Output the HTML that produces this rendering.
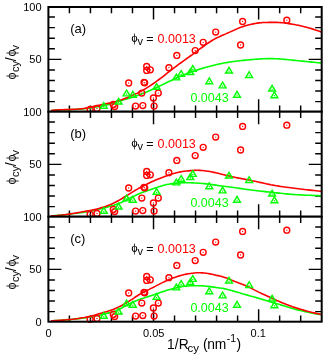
<!DOCTYPE html>
<html><head><meta charset="utf-8"><title>plot</title>
<style>
html,body{margin:0;padding:0;background:#fff;}
svg{display:block;will-change:transform;}
text{font-family:"Liberation Sans",sans-serif;}
</style></head><body>
<svg width="325" height="357" viewBox="0 0 325 357">
<rect width="325" height="357" fill="#fff"/>
<defs>
<g id="c"><circle r="2.95" fill="none" stroke="#ff0000" stroke-width="1.4"/><circle r="0.65" fill="#ff0000"/></g>
<g id="t"><path d="M0,-2.85 L3.4,2.85 L-3.4,2.85 Z" fill="none" stroke="#00ff00" stroke-width="1.45" stroke-linejoin="miter"/><circle cy="1.0" r="0.7" fill="#00ff00"/></g>
<g id="phi"><path fill-rule="evenodd" fill="#000" d="M-3.05,-3.3 a3.05,3.5 0 1,0 6.1,0 a3.05,3.5 0 1,0 -6.1,0 Z M-1.9,-3.3 a1.9,2.8 0 1,0 3.8,0 a1.9,2.8 0 1,0 -3.8,0 Z"/><path d="M0,-9.2 V3.1" stroke="#000" stroke-width="0.8" fill="none"/></g>
</defs>

<g>
<rect x="48.4" y="7.0" width="273.3" height="105.7" fill="#fff"/>
<path d="M69.42,7.0 V13.2 M69.42,111.7 V105.5 M90.45,7.0 V13.2 M90.45,111.7 V105.5 M111.47,7.0 V13.2 M111.47,111.7 V105.5 M132.49,7.0 V13.2 M132.49,111.7 V105.5 M153.52,7.0 V19.5 M153.52,111.7 V99.2 M174.54,7.0 V13.2 M174.54,111.7 V105.5 M195.56,7.0 V13.2 M195.56,111.7 V105.5 M216.58,7.0 V13.2 M216.58,111.7 V105.5 M237.61,7.0 V13.2 M237.61,111.7 V105.5 M258.63,7.0 V19.5 M258.63,111.7 V99.2 M279.65,7.0 V13.2 M279.65,111.7 V105.5 M300.68,7.0 V13.2 M300.68,111.7 V105.5 M48.4,101.63 H54.9 M321.7,101.63 H315.2 M48.4,91.06 H54.9 M321.7,91.06 H315.2 M48.4,80.49 H54.9 M321.7,80.49 H315.2 M48.4,69.92 H54.9 M321.7,69.92 H315.2 M48.4,59.35 H61.4 M321.7,59.35 H308.7 M48.4,48.78 H54.9 M321.7,48.78 H315.2 M48.4,38.21 H54.9 M321.7,38.21 H315.2 M48.4,27.64 H54.9 M321.7,27.64 H315.2 M48.4,17.07 H54.9 M321.7,17.07 H315.2" stroke="#000" stroke-width="1.45" fill="none"/>
<path d="M51.0,110.65 L52.9,110.44 L54.9,110.26 L56.9,110.12 L58.8,110.00 L60.8,109.90 L62.7,109.82 L64.7,109.75 L66.7,109.69 L68.6,109.63 L70.6,109.57 L72.6,109.50 L74.5,109.43 L76.5,109.33 L78.5,109.22 L80.4,109.09 L82.4,108.92 L84.4,108.73 L86.3,108.49 L88.3,108.23 L90.2,107.93 L92.2,107.62 L94.2,107.29 L96.1,106.95 L98.1,106.61 L100.1,106.26 L102.0,105.89 L104.0,105.51 L106.0,105.09 L107.9,104.63 L109.9,104.12 L111.8,103.56 L113.8,102.96 L115.8,102.33 L117.7,101.70 L119.7,101.07 L121.7,100.45 L123.6,99.85 L125.6,99.27 L127.6,98.70 L129.5,98.12 L131.5,97.53 L133.5,96.91 L135.4,96.26 L137.4,95.58 L139.3,94.86 L141.3,94.11 L143.3,93.34 L145.2,92.54 L147.2,91.71 L149.2,90.86 L151.1,89.99 L153.1,89.10 L155.1,88.19 L157.0,87.26 L159.0,86.33 L160.9,85.39 L162.9,84.44 L164.9,83.49 L166.8,82.54 L168.8,81.59 L170.8,80.66 L172.7,79.73 L174.7,78.82 L176.7,77.92 L178.6,77.05 L180.6,76.20 L182.6,75.38 L184.5,74.58 L186.5,73.80 L188.4,73.05 L190.4,72.32 L192.4,71.61 L194.3,70.92 L196.3,70.26 L198.3,69.62 L200.2,68.99 L202.2,68.39 L204.2,67.81 L206.1,67.25 L208.1,66.71 L210.1,66.19 L212.0,65.68 L214.0,65.20 L215.9,64.73 L217.9,64.29 L219.9,63.86 L221.8,63.45 L223.8,63.07 L225.8,62.71 L227.7,62.37 L229.7,62.05 L231.7,61.75 L233.6,61.48 L235.6,61.22 L237.5,60.98 L239.5,60.76 L241.5,60.55 L243.4,60.35 L245.4,60.16 L247.4,59.97 L249.3,59.79 L251.3,59.61 L253.3,59.44 L255.2,59.27 L257.2,59.12 L259.2,58.98 L261.1,58.86 L263.1,58.76 L265.0,58.68 L267.0,58.63 L269.0,58.60 L270.9,58.61 L272.9,58.65 L274.9,58.71 L276.8,58.80 L278.8,58.92 L280.8,59.05 L282.7,59.20 L284.7,59.37 L286.6,59.55 L288.6,59.74 L290.6,59.93 L292.5,60.13 L294.5,60.33 L296.5,60.53 L298.4,60.73 L300.4,60.93 L302.4,61.13 L304.3,61.33 L306.3,61.53 L308.3,61.72 L310.2,61.92 L312.2,62.12 L314.1,62.31 L316.1,62.51 L318.1,62.71 L320.0,62.90 L322.0,63.10" fill="none" stroke="#00ff00" stroke-width="1.6"/>
<path d="M51.0,110.61 L52.9,110.37 L54.9,110.17 L56.9,110.02 L58.8,109.89 L60.8,109.79 L62.7,109.71 L64.7,109.65 L66.7,109.59 L68.6,109.53 L70.6,109.47 L72.6,109.39 L74.5,109.30 L76.5,109.18 L78.5,109.03 L80.4,108.85 L82.4,108.62 L84.4,108.34 L86.3,108.01 L88.3,107.63 L90.2,107.22 L92.2,106.78 L94.2,106.34 L96.1,105.89 L98.1,105.46 L100.1,105.04 L102.0,104.63 L104.0,104.23 L106.0,103.81 L107.9,103.39 L109.9,102.94 L111.8,102.47 L113.8,101.98 L115.8,101.45 L117.7,100.89 L119.7,100.28 L121.7,99.64 L123.6,98.96 L125.6,98.23 L127.6,97.46 L129.5,96.66 L131.5,95.82 L133.5,94.96 L135.4,94.06 L137.4,93.12 L139.3,92.14 L141.3,91.10 L143.3,90.01 L145.2,88.85 L147.2,87.65 L149.2,86.40 L151.1,85.10 L153.1,83.76 L155.1,82.37 L157.0,80.95 L159.0,79.50 L160.9,78.02 L162.9,76.53 L164.9,75.01 L166.8,73.49 L168.8,71.96 L170.8,70.43 L172.7,68.90 L174.7,67.39 L176.7,65.90 L178.6,64.43 L180.6,62.98 L182.6,61.56 L184.5,60.15 L186.5,58.76 L188.4,57.37 L190.4,55.97 L192.4,54.56 L194.3,53.13 L196.3,51.68 L198.3,50.21 L200.2,48.73 L202.2,47.26 L204.2,45.80 L206.1,44.39 L208.1,43.02 L210.1,41.72 L212.0,40.50 L214.0,39.36 L215.9,38.32 L217.9,37.36 L219.9,36.45 L221.8,35.57 L223.8,34.72 L225.8,33.87 L227.7,33.00 L229.7,32.13 L231.7,31.26 L233.6,30.37 L235.6,29.49 L237.5,28.62 L239.5,27.80 L241.5,27.05 L243.4,26.38 L245.4,25.79 L247.4,25.26 L249.3,24.77 L251.3,24.30 L253.3,23.86 L255.2,23.47 L257.2,23.14 L259.2,22.88 L261.1,22.70 L263.1,22.57 L265.0,22.49 L267.0,22.44 L269.0,22.41 L270.9,22.39 L272.9,22.37 L274.9,22.37 L276.8,22.41 L278.8,22.49 L280.8,22.63 L282.7,22.82 L284.7,23.05 L286.6,23.31 L288.6,23.59 L290.6,23.89 L292.5,24.22 L294.5,24.56 L296.5,24.93 L298.4,25.33 L300.4,25.75 L302.4,26.20 L304.3,26.68 L306.3,27.18 L308.3,27.71 L310.2,28.28 L312.2,28.87 L314.1,29.49 L316.1,30.15 L318.1,30.83 L320.0,31.55 L322.0,32.30" fill="none" stroke="#ff0000" stroke-width="1.6"/>
<use href="#c" x="90.1" y="109.3"/>
<use href="#c" x="97.0" y="108.4"/>
<use href="#c" x="113.3" y="104.5"/>
<use href="#c" x="114.7" y="106.6"/>
<use href="#c" x="128.7" y="83"/>
<use href="#c" x="135.6" y="106.1"/>
<use href="#c" x="141.8" y="93.1"/>
<use href="#c" x="142.8" y="105.6"/>
<use href="#c" x="144.0" y="82.3"/>
<use href="#c" x="144.7" y="82.8"/>
<use href="#c" x="146.7" y="66.4"/>
<use href="#c" x="150.3" y="69.8"/>
<use href="#c" x="146.7" y="70.4"/>
<use href="#c" x="153.4" y="98.0"/>
<use href="#c" x="154.1" y="106.1"/>
<use href="#c" x="158.3" y="93.1"/>
<use href="#c" x="168.9" y="67.7"/>
<use href="#c" x="176.8" y="55.4"/>
<use href="#c" x="195.2" y="50.6"/>
<use href="#c" x="203.2" y="42.3"/>
<use href="#c" x="215.7" y="32.1"/>
<use href="#c" x="240.6" y="45"/>
<use href="#c" x="242.6" y="21.4"/>
<use href="#c" x="286.8" y="20.2"/>
<use href="#t" x="103.8" y="105.4"/>
<use href="#t" x="118.6" y="101.2"/>
<use href="#t" x="126.6" y="93"/>
<use href="#t" x="132.8" y="94.3"/>
<use href="#t" x="156.6" y="86.4"/>
<use href="#t" x="176.3" y="77"/>
<use href="#t" x="181.2" y="73.4"/>
<use href="#t" x="190.3" y="71.7"/>
<use href="#t" x="192.8" y="68.5"/>
<use href="#t" x="209.3" y="80.8"/>
<use href="#t" x="222.6" y="85"/>
<use href="#t" x="229" y="70.2"/>
<use href="#t" x="237" y="94.3"/>
<use href="#t" x="249.2" y="74.6"/>
<use href="#t" x="272.1" y="88.2"/>
<use href="#t" x="274.4" y="94.8"/>
<rect x="48.4" y="7.0" width="273.3" height="104.7" fill="none" stroke="#000" stroke-width="2"/>
</g>
<g>
<rect x="48.4" y="111.7" width="273.3" height="105.99999999999999" fill="#fff"/>
<path d="M69.42,111.7 V117.9 M69.42,216.7 V210.5 M90.45,111.7 V117.9 M90.45,216.7 V210.5 M111.47,111.7 V117.9 M111.47,216.7 V210.5 M132.49,111.7 V117.9 M132.49,216.7 V210.5 M153.52,111.7 V124.2 M153.52,216.7 V204.2 M174.54,111.7 V117.9 M174.54,216.7 V210.5 M195.56,111.7 V117.9 M195.56,216.7 V210.5 M216.58,111.7 V117.9 M216.58,216.7 V210.5 M237.61,111.7 V117.9 M237.61,216.7 V210.5 M258.63,111.7 V124.2 M258.63,216.7 V204.2 M279.65,111.7 V117.9 M279.65,216.7 V210.5 M300.68,111.7 V117.9 M300.68,216.7 V210.5 M48.4,206.63 H54.9 M321.7,206.63 H315.2 M48.4,196.06 H54.9 M321.7,196.06 H315.2 M48.4,185.49 H54.9 M321.7,185.49 H315.2 M48.4,174.92 H54.9 M321.7,174.92 H315.2 M48.4,164.35 H61.4 M321.7,164.35 H308.7 M48.4,153.78 H54.9 M321.7,153.78 H315.2 M48.4,143.21 H54.9 M321.7,143.21 H315.2 M48.4,132.64 H54.9 M321.7,132.64 H315.2 M48.4,122.07 H54.9 M321.7,122.07 H315.2" stroke="#000" stroke-width="1.45" fill="none"/>
<path d="M51.0,215.82 L52.9,215.72 L54.9,215.60 L56.9,215.46 L58.8,215.29 L60.8,215.12 L62.7,214.92 L64.7,214.71 L66.7,214.49 L68.6,214.26 L70.6,214.02 L72.6,213.77 L74.5,213.51 L76.5,213.24 L78.5,212.98 L80.4,212.71 L82.4,212.43 L84.4,212.16 L86.3,211.87 L88.3,211.57 L90.2,211.25 L92.2,210.89 L94.2,210.49 L96.1,210.04 L98.1,209.56 L100.1,209.04 L102.0,208.51 L104.0,207.97 L106.0,207.42 L107.9,206.88 L109.9,206.34 L111.8,205.79 L113.8,205.20 L115.8,204.57 L117.7,203.86 L119.7,203.07 L121.7,202.18 L123.6,201.23 L125.6,200.25 L127.6,199.26 L129.5,198.28 L131.5,197.32 L133.5,196.36 L135.4,195.42 L137.4,194.51 L139.3,193.65 L141.3,192.84 L143.3,192.08 L145.2,191.38 L147.2,190.72 L149.2,190.08 L151.1,189.44 L153.1,188.78 L155.1,188.11 L157.0,187.44 L159.0,186.78 L160.9,186.15 L162.9,185.55 L164.9,185.01 L166.8,184.56 L168.8,184.19 L170.8,183.88 L172.7,183.63 L174.7,183.41 L176.7,183.23 L178.6,183.06 L180.6,182.91 L182.6,182.81 L184.5,182.74 L186.5,182.73 L188.4,182.74 L190.4,182.79 L192.4,182.86 L194.3,182.95 L196.3,183.05 L198.3,183.18 L200.2,183.31 L202.2,183.47 L204.2,183.64 L206.1,183.83 L208.1,184.05 L210.1,184.29 L212.0,184.56 L214.0,184.85 L215.9,185.14 L217.9,185.42 L219.9,185.70 L221.8,185.97 L223.8,186.23 L225.8,186.48 L227.7,186.73 L229.7,186.98 L231.7,187.24 L233.6,187.51 L235.6,187.80 L237.5,188.08 L239.5,188.37 L241.5,188.66 L243.4,188.94 L245.4,189.22 L247.4,189.50 L249.3,189.77 L251.3,190.02 L253.3,190.28 L255.2,190.52 L257.2,190.76 L259.2,190.99 L261.1,191.21 L263.1,191.42 L265.0,191.63 L267.0,191.83 L269.0,192.04 L270.9,192.25 L272.9,192.46 L274.9,192.68 L276.8,192.89 L278.8,193.10 L280.8,193.31 L282.7,193.52 L284.7,193.72 L286.6,193.91 L288.6,194.09 L290.6,194.26 L292.5,194.42 L294.5,194.57 L296.5,194.70 L298.4,194.81 L300.4,194.91 L302.4,195.01 L304.3,195.10 L306.3,195.18 L308.3,195.25 L310.2,195.32 L312.2,195.40 L314.1,195.47 L316.1,195.55 L318.1,195.63 L320.0,195.72 L322.0,195.82" fill="none" stroke="#00ff00" stroke-width="1.6"/>
<path d="M51.0,215.88 L52.9,215.82 L54.9,215.72 L56.9,215.59 L58.8,215.41 L60.8,215.21 L62.7,214.98 L64.7,214.73 L66.7,214.45 L68.6,214.15 L70.6,213.84 L72.6,213.52 L74.5,213.19 L76.5,212.85 L78.5,212.51 L80.4,212.17 L82.4,211.83 L84.4,211.50 L86.3,211.16 L88.3,210.81 L90.2,210.45 L92.2,210.06 L94.2,209.63 L96.1,209.17 L98.1,208.66 L100.1,208.11 L102.0,207.52 L104.0,206.89 L106.0,206.22 L107.9,205.50 L109.9,204.73 L111.8,203.90 L113.8,203.01 L115.8,202.04 L117.7,201.00 L119.7,199.88 L121.7,198.71 L123.6,197.52 L125.6,196.30 L127.6,195.08 L129.5,193.84 L131.5,192.60 L133.5,191.39 L135.4,190.25 L137.4,189.14 L139.3,188.06 L141.3,187.00 L143.3,185.96 L145.2,184.95 L147.2,183.97 L149.2,183.01 L151.1,182.09 L153.1,181.19 L155.1,180.34 L157.0,179.51 L159.0,178.71 L160.9,177.93 L162.9,177.18 L164.9,176.45 L166.8,175.73 L168.8,175.03 L170.8,174.36 L172.7,173.74 L174.7,173.17 L176.7,172.66 L178.6,172.23 L180.6,171.86 L182.6,171.54 L184.5,171.27 L186.5,171.04 L188.4,170.83 L190.4,170.65 L192.4,170.49 L194.3,170.37 L196.3,170.31 L198.3,170.31 L200.2,170.38 L202.2,170.51 L204.2,170.71 L206.1,170.95 L208.1,171.25 L210.1,171.58 L212.0,171.95 L214.0,172.35 L215.9,172.78 L217.9,173.23 L219.9,173.70 L221.8,174.18 L223.8,174.68 L225.8,175.17 L227.7,175.66 L229.7,176.15 L231.7,176.62 L233.6,177.07 L235.6,177.50 L237.5,177.90 L239.5,178.29 L241.5,178.66 L243.4,179.03 L245.4,179.39 L247.4,179.76 L249.3,180.14 L251.3,180.53 L253.3,180.92 L255.2,181.33 L257.2,181.75 L259.2,182.18 L261.1,182.62 L263.1,183.07 L265.0,183.51 L267.0,183.95 L269.0,184.37 L270.9,184.77 L272.9,185.14 L274.9,185.49 L276.8,185.82 L278.8,186.14 L280.8,186.43 L282.7,186.72 L284.7,186.99 L286.6,187.25 L288.6,187.50 L290.6,187.75 L292.5,187.99 L294.5,188.24 L296.5,188.48 L298.4,188.72 L300.4,188.96 L302.4,189.20 L304.3,189.44 L306.3,189.67 L308.3,189.91 L310.2,190.13 L312.2,190.36 L314.1,190.58 L316.1,190.79 L318.1,191.00 L320.0,191.20 L322.0,191.40" fill="none" stroke="#ff0000" stroke-width="1.6"/>
<use href="#c" x="90.1" y="214.3"/>
<use href="#c" x="97.0" y="213.4"/>
<use href="#c" x="113.3" y="209.5"/>
<use href="#c" x="114.7" y="211.6"/>
<use href="#c" x="128.7" y="188"/>
<use href="#c" x="135.6" y="211.1"/>
<use href="#c" x="141.8" y="198.1"/>
<use href="#c" x="142.8" y="210.6"/>
<use href="#c" x="144.0" y="187.3"/>
<use href="#c" x="144.7" y="187.8"/>
<use href="#c" x="146.7" y="171.4"/>
<use href="#c" x="150.3" y="174.8"/>
<use href="#c" x="146.7" y="175.4"/>
<use href="#c" x="153.4" y="203.0"/>
<use href="#c" x="154.1" y="211.1"/>
<use href="#c" x="158.3" y="198.1"/>
<use href="#c" x="168.9" y="172.7"/>
<use href="#c" x="176.8" y="160.4"/>
<use href="#c" x="195.2" y="155.6"/>
<use href="#c" x="203.2" y="147.3"/>
<use href="#c" x="215.7" y="137.1"/>
<use href="#c" x="240.6" y="150"/>
<use href="#c" x="242.6" y="126.4"/>
<use href="#c" x="286.8" y="125.2"/>
<use href="#t" x="103.8" y="210.4"/>
<use href="#t" x="118.6" y="206.2"/>
<use href="#t" x="126.6" y="198"/>
<use href="#t" x="132.8" y="199.3"/>
<use href="#t" x="156.6" y="191.4"/>
<use href="#t" x="176.3" y="182"/>
<use href="#t" x="181.2" y="178.4"/>
<use href="#t" x="190.3" y="176.7"/>
<use href="#t" x="192.8" y="173.5"/>
<use href="#t" x="209.3" y="185.8"/>
<use href="#t" x="222.6" y="190"/>
<use href="#t" x="229" y="175.2"/>
<use href="#t" x="237" y="199.3"/>
<use href="#t" x="249.2" y="179.6"/>
<use href="#t" x="272.1" y="193.2"/>
<use href="#t" x="274.4" y="199.8"/>
<rect x="48.4" y="111.7" width="273.3" height="104.99999999999999" fill="none" stroke="#000" stroke-width="2"/>
</g>
<g>
<rect x="48.4" y="216.7" width="273.3" height="106.0" fill="#fff"/>
<path d="M69.42,216.7 V222.89999999999998 M69.42,321.7 V315.5 M90.45,216.7 V222.89999999999998 M90.45,321.7 V315.5 M111.47,216.7 V222.89999999999998 M111.47,321.7 V315.5 M132.49,216.7 V222.89999999999998 M132.49,321.7 V315.5 M153.52,216.7 V229.2 M153.52,321.7 V309.2 M174.54,216.7 V222.89999999999998 M174.54,321.7 V315.5 M195.56,216.7 V222.89999999999998 M195.56,321.7 V315.5 M216.58,216.7 V222.89999999999998 M216.58,321.7 V315.5 M237.61,216.7 V222.89999999999998 M237.61,321.7 V315.5 M258.63,216.7 V229.2 M258.63,321.7 V309.2 M279.65,216.7 V222.89999999999998 M279.65,321.7 V315.5 M300.68,216.7 V222.89999999999998 M300.68,321.7 V315.5 M48.4,311.63 H54.9 M321.7,311.63 H315.2 M48.4,301.06 H54.9 M321.7,301.06 H315.2 M48.4,290.49 H54.9 M321.7,290.49 H315.2 M48.4,279.92 H54.9 M321.7,279.92 H315.2 M48.4,269.35 H61.4 M321.7,269.35 H308.7 M48.4,258.78 H54.9 M321.7,258.78 H315.2 M48.4,248.21 H54.9 M321.7,248.21 H315.2 M48.4,237.64 H54.9 M321.7,237.64 H315.2 M48.4,227.07 H54.9 M321.7,227.07 H315.2" stroke="#000" stroke-width="1.45" fill="none"/>
<path d="M51.0,320.83 L52.9,320.75 L54.9,320.65 L56.9,320.55 L58.8,320.43 L60.8,320.30 L62.7,320.16 L64.7,320.01 L66.7,319.85 L68.6,319.67 L70.6,319.49 L72.6,319.29 L74.5,319.08 L76.5,318.86 L78.5,318.63 L80.4,318.39 L82.4,318.14 L84.4,317.87 L86.3,317.59 L88.3,317.28 L90.2,316.94 L92.2,316.59 L94.2,316.22 L96.1,315.83 L98.1,315.41 L100.1,314.98 L102.0,314.53 L104.0,314.07 L106.0,313.60 L107.9,313.13 L109.9,312.63 L111.8,312.08 L113.8,311.48 L115.8,310.80 L117.7,310.01 L119.7,309.07 L121.7,308.01 L123.6,306.88 L125.6,305.75 L127.6,304.68 L129.5,303.68 L131.5,302.75 L133.5,301.87 L135.4,301.06 L137.4,300.29 L139.3,299.56 L141.3,298.86 L143.3,298.20 L145.2,297.57 L147.2,296.93 L149.2,296.30 L151.1,295.66 L153.1,295.01 L155.1,294.36 L157.0,293.69 L159.0,293.01 L160.9,292.33 L162.9,291.63 L164.9,290.92 L166.8,290.28 L168.8,289.70 L170.8,289.17 L172.7,288.67 L174.7,288.18 L176.7,287.70 L178.6,287.25 L180.6,286.87 L182.6,286.55 L184.5,286.29 L186.5,286.09 L188.4,285.93 L190.4,285.81 L192.4,285.74 L194.3,285.70 L196.3,285.70 L198.3,285.73 L200.2,285.80 L202.2,285.90 L204.2,286.03 L206.1,286.20 L208.1,286.39 L210.1,286.61 L212.0,286.86 L214.0,287.14 L215.9,287.42 L217.9,287.70 L219.9,287.99 L221.8,288.30 L223.8,288.66 L225.8,289.07 L227.7,289.54 L229.7,290.04 L231.7,290.57 L233.6,291.11 L235.6,291.67 L237.5,292.24 L239.5,292.82 L241.5,293.40 L243.4,293.99 L245.4,294.56 L247.4,295.13 L249.3,295.68 L251.3,296.24 L253.3,296.79 L255.2,297.34 L257.2,297.89 L259.2,298.46 L261.1,299.03 L263.1,299.62 L265.0,300.21 L267.0,300.82 L269.0,301.45 L270.9,302.06 L272.9,302.66 L274.9,303.23 L276.8,303.77 L278.8,304.31 L280.8,304.86 L282.7,305.44 L284.7,306.05 L286.6,306.66 L288.6,307.29 L290.6,307.91 L292.5,308.51 L294.5,309.08 L296.5,309.61 L298.4,310.11 L300.4,310.58 L302.4,311.03 L304.3,311.46 L306.3,311.89 L308.3,312.31 L310.2,312.73 L312.2,313.12 L314.1,313.50 L316.1,313.84 L318.1,314.14 L320.0,314.39 L322.0,314.58" fill="none" stroke="#00ff00" stroke-width="1.6"/>
<path d="M51.0,320.82 L52.9,320.73 L54.9,320.63 L56.9,320.52 L58.8,320.40 L60.8,320.28 L62.7,320.13 L64.7,319.98 L66.7,319.81 L68.6,319.63 L70.6,319.43 L72.6,319.21 L74.5,318.98 L76.5,318.72 L78.5,318.44 L80.4,318.14 L82.4,317.82 L84.4,317.47 L86.3,317.09 L88.3,316.67 L90.2,316.23 L92.2,315.75 L94.2,315.23 L96.1,314.67 L98.1,314.09 L100.1,313.48 L102.0,312.90 L104.0,312.37 L106.0,311.84 L107.9,311.27 L109.9,310.61 L111.8,309.90 L113.8,309.14 L115.8,308.33 L117.7,307.45 L119.7,306.50 L121.7,305.51 L123.6,304.46 L125.6,303.36 L127.6,302.18 L129.5,300.93 L131.5,299.63 L133.5,298.32 L135.4,297.01 L137.4,295.73 L139.3,294.50 L141.3,293.36 L143.3,292.31 L145.2,291.32 L147.2,290.34 L149.2,289.38 L151.1,288.41 L153.1,287.41 L155.1,286.40 L157.0,285.37 L159.0,284.35 L160.9,283.34 L162.9,282.36 L164.9,281.42 L166.8,280.52 L168.8,279.67 L170.8,278.87 L172.7,278.11 L174.7,277.39 L176.7,276.73 L178.6,276.11 L180.6,275.54 L182.6,275.03 L184.5,274.57 L186.5,274.15 L188.4,273.78 L190.4,273.46 L192.4,273.18 L194.3,272.96 L196.3,272.82 L198.3,272.76 L200.2,272.78 L202.2,272.87 L204.2,273.04 L206.1,273.27 L208.1,273.56 L210.1,273.90 L212.0,274.28 L214.0,274.72 L215.9,275.17 L217.9,275.61 L219.9,276.07 L221.8,276.58 L223.8,277.17 L225.8,277.84 L227.7,278.59 L229.7,279.36 L231.7,280.14 L233.6,280.92 L235.6,281.66 L237.5,282.40 L239.5,283.13 L241.5,283.88 L243.4,284.66 L245.4,285.49 L247.4,286.38 L249.3,287.33 L251.3,288.32 L253.3,289.34 L255.2,290.36 L257.2,291.37 L259.2,292.35 L261.1,293.29 L263.1,294.19 L265.0,295.07 L267.0,295.95 L269.0,296.83 L270.9,297.73 L272.9,298.63 L274.9,299.54 L276.8,300.43 L278.8,301.31 L280.8,302.18 L282.7,303.01 L284.7,303.82 L286.6,304.59 L288.6,305.33 L290.6,306.04 L292.5,306.73 L294.5,307.38 L296.5,308.02 L298.4,308.63 L300.4,309.23 L302.4,309.82 L304.3,310.38 L306.3,310.92 L308.3,311.45 L310.2,311.95 L312.2,312.44 L314.1,312.90 L316.1,313.35 L318.1,313.78 L320.0,314.19 L322.0,314.58" fill="none" stroke="#ff0000" stroke-width="1.6"/>
<use href="#c" x="90.1" y="319.3"/>
<use href="#c" x="97.0" y="318.4"/>
<use href="#c" x="113.3" y="314.5"/>
<use href="#c" x="114.7" y="316.6"/>
<use href="#c" x="128.7" y="293"/>
<use href="#c" x="135.6" y="316.1"/>
<use href="#c" x="141.8" y="303.1"/>
<use href="#c" x="142.8" y="315.6"/>
<use href="#c" x="144.0" y="292.3"/>
<use href="#c" x="144.7" y="292.8"/>
<use href="#c" x="146.7" y="276.4"/>
<use href="#c" x="150.3" y="279.8"/>
<use href="#c" x="146.7" y="280.4"/>
<use href="#c" x="153.4" y="308.0"/>
<use href="#c" x="154.1" y="316.1"/>
<use href="#c" x="158.3" y="303.1"/>
<use href="#c" x="168.9" y="277.7"/>
<use href="#c" x="176.8" y="265.4"/>
<use href="#c" x="195.2" y="260.6"/>
<use href="#c" x="203.2" y="252.3"/>
<use href="#c" x="215.7" y="242.1"/>
<use href="#c" x="240.6" y="255"/>
<use href="#c" x="242.6" y="231.4"/>
<use href="#c" x="286.8" y="230.2"/>
<use href="#t" x="103.8" y="315.4"/>
<use href="#t" x="118.6" y="311.2"/>
<use href="#t" x="126.6" y="303"/>
<use href="#t" x="132.8" y="304.3"/>
<use href="#t" x="156.6" y="296.4"/>
<use href="#t" x="176.3" y="287"/>
<use href="#t" x="181.2" y="283.4"/>
<use href="#t" x="190.3" y="281.7"/>
<use href="#t" x="192.8" y="278.5"/>
<use href="#t" x="209.3" y="290.8"/>
<use href="#t" x="222.6" y="295"/>
<use href="#t" x="229" y="280.2"/>
<use href="#t" x="237" y="304.3"/>
<use href="#t" x="249.2" y="284.6"/>
<use href="#t" x="272.1" y="298.2"/>
<use href="#t" x="274.4" y="304.8"/>
<rect x="48.4" y="216.7" width="273.3" height="105.0" fill="none" stroke="#000" stroke-width="2"/>
</g>
<text x="41.6" y="11" font-size="11" text-anchor="end">100</text>
<text x="41.6" y="63.3" font-size="11" text-anchor="end">50</text>
<text x="41.6" y="115.8" font-size="11" text-anchor="end">100</text>
<text x="41.6" y="168.3" font-size="11" text-anchor="end">50</text>
<text x="41.6" y="220.8" font-size="11" text-anchor="end">100</text>
<text x="41.6" y="273.3" font-size="11" text-anchor="end">50</text>
<text x="41.6" y="325.8" font-size="11" text-anchor="end">0</text>
<text x="48.6" y="337" font-size="11" text-anchor="middle">0</text>
<text x="153.7" y="337" font-size="11" text-anchor="middle">0.05</text>
<text x="258.2" y="337" font-size="11" text-anchor="middle">0.1</text>
<text x="70.2" y="32.8" font-size="13">(a)</text>
<use href="#phi" transform="translate(134.5,41.7) scale(0.89)"/>
<text x="137.6" y="45.2" font-size="11">v</text>
<text x="146.2" y="43.2" font-size="12.5">=</text>
<text x="157.6" y="43.2" font-size="12.5" fill="#ff0000">0.0013</text>
<text x="190.4" y="101.6" font-size="12.5" fill="#00ff00">0.0043</text>
<text x="70.2" y="137.8" font-size="13">(b)</text>
<use href="#phi" transform="translate(134.5,146.7) scale(0.89)"/>
<text x="137.6" y="150.2" font-size="11">v</text>
<text x="146.2" y="148.2" font-size="12.5">=</text>
<text x="157.6" y="148.2" font-size="12.5" fill="#ff0000">0.0013</text>
<text x="190.4" y="206.6" font-size="12.5" fill="#00ff00">0.0043</text>
<text x="70.2" y="242.8" font-size="13">(c)</text>
<use href="#phi" transform="translate(134.5,251.7) scale(0.89)"/>
<text x="137.6" y="255.2" font-size="11">v</text>
<text x="146.2" y="253.2" font-size="12.5">=</text>
<text x="157.6" y="253.2" font-size="12.5" fill="#ff0000">0.0013</text>
<text x="190.4" y="311.6" font-size="12.5" fill="#00ff00">0.0043</text>
<text x="166.9" y="349.3" font-size="13.8" letter-spacing="0.15">1/R</text>
<text x="187.5" y="352.0" font-size="11.5">cy</text>
<text x="203.0" y="349.3" font-size="13.8">(</text>
<text x="207.2" y="349.3" font-size="13.8">nm</text>
<text x="226.8" y="342.0" font-size="10.5">-1</text>
<text x="236.4" y="349.3" font-size="13.8">)</text>
<g transform="translate(15.6,79.5) rotate(-90)"><use href="#phi" x="3.5" y="0"/><text x="7.4" y="3.4" font-size="11">cy</text><text x="18.3" y="0" font-size="14">/</text><use href="#phi" x="26.5" y="0"/><text x="29.1" y="3.4" font-size="11">v</text></g>
<g transform="translate(15.6,184.5) rotate(-90)"><use href="#phi" x="3.5" y="0"/><text x="7.4" y="3.4" font-size="11">cy</text><text x="18.3" y="0" font-size="14">/</text><use href="#phi" x="26.5" y="0"/><text x="29.1" y="3.4" font-size="11">v</text></g>
<g transform="translate(15.6,289.5) rotate(-90)"><use href="#phi" x="3.5" y="0"/><text x="7.4" y="3.4" font-size="11">cy</text><text x="18.3" y="0" font-size="14">/</text><use href="#phi" x="26.5" y="0"/><text x="29.1" y="3.4" font-size="11">v</text></g>
</svg></body></html>
